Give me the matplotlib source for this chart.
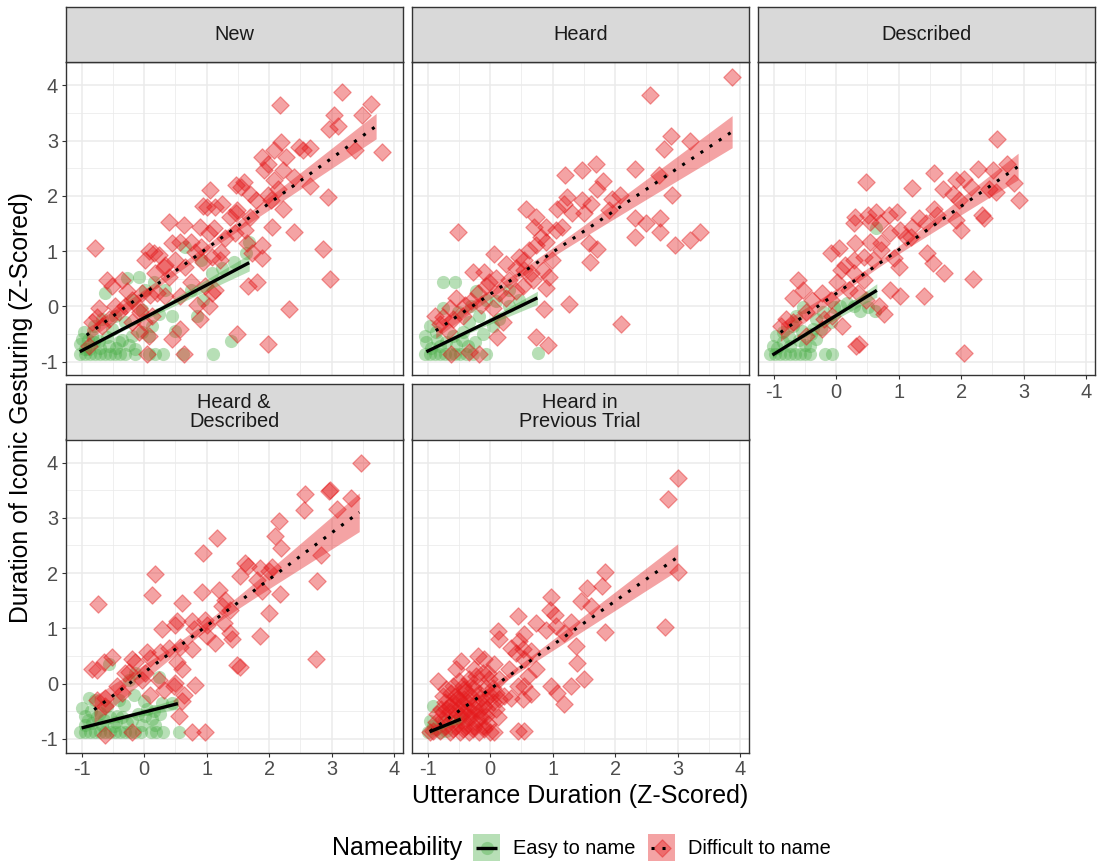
import numpy as np
import matplotlib.pyplot as plt
from matplotlib.patches import Rectangle

plt.rcParams['font.family'] = ['Liberation Sans', 'DejaVu Sans']

panels = ["New", "Heard", "Described", "Heard &\nDescribed", "Heard in\nPrevious Trial"]
legend_labels = ["Easy to name", "Difficult to name"]

# points, (utterance, gesturing) pairs
new_easy = [(-1.03,-0.86),(-0.95,-0.86),(-0.87,-0.86),(-0.79,-0.86),(-0.71,-0.86),(-0.63,-0.86),(-0.55,-0.86),
            (-0.47,-0.86),(-0.39,-0.86),(-0.31,-0.86),(-0.15,-0.86),(0.07,-0.86),(0.17,-0.86),(0.3,-0.86),
            (0.62,-0.86),(1.1,-0.86),(-1.03,-0.68),(-0.97,-0.47),(-1.0,-0.59),(-0.84,-0.53),(-0.73,-0.62),
            (-0.57,-0.71),(-0.41,-0.65),(-0.2,-0.53),(-0.04,-0.47),(0.07,-0.53),(-0.63,0.24),(-0.28,0.51),
            (-0.09,0.54),(0.15,0.45),(0.02,0.3),(-0.2,0.12),(-0.04,-0.06),(0.23,-0.14),(0.44,-0.17),
            (0.49,-0.44),(0.84,-0.17),(0.94,0.12),(1.39,-0.62),(0.65,1.08),(0.91,0.84),(1.08,0.6),(1.24,0.69),
            (1.44,0.81),(1.68,1.17),(1.63,0.96),(0.75,0.3),(0.33,0.3),(-0.47,-0.17),(-0.68,-0.23),(-0.81,-0.35),
            (-0.52,-0.41),(-0.31,-0.29),(0.12,-0.35),(-0.15,-0.77),(-0.89,-0.77),(-0.95,-0.77),(-0.9,-0.6),
            (-0.8,-0.65),(-0.7,-0.75),(-0.6,-0.55),(-0.45,-0.75),(-0.35,-0.6),(-0.25,-0.7)]
new_difficult = [(3.17,3.87),(2.17,3.65),(3.62,3.66),(3.03,3.46),(3.49,3.46),(2.96,3.2),(3.1,3.26),(3.81,2.8),
                 (3.37,2.83),(2.19,2.97),(2.07,2.82),(1.88,2.70),(2.47,2.88),(2.65,2.87),(2.54,2.82),(2.27,2.70),
                 (1.98,2.58),(2.22,2.46),(2.40,2.34),(2.08,2.28),(1.92,2.46),(1.6,2.25),(1.47,2.19),(1.55,2.16),
                 (1.06,2.1),(2.65,2.17),(2.94,1.97),(1.69,2.04),(1.79,1.92),(1.98,2.01),(2.14,2.13),(2.22,1.77),
                 (2.03,1.92),(1.01,1.8),(1.14,1.8),(1.24,1.86),(0.94,1.81),(1.38,1.62),(1.47,1.68),(1.7,1.62),
                 (1.49,1.74),(2.04,1.44),(2.40,1.35),(2.86,1.03),(2.98,0.5),(2.31,-0.04),(1.98,-0.68),(1.49,-0.5),
                 (0.4,1.53),(0.63,1.47),(0.9,1.44),(1.11,1.41),(1.03,1.32),(1.29,1.23),(1.45,1.32),(1.61,1.38),
                 (1.64,1.14),(1.88,1.11),(1.72,0.96),(1.88,0.87),(1.23,0.99),(0.91,1.08),(0.75,1.17),(0.57,1.17),
                 (0.44,1.14),(0.81,0.99),(1.08,0.9),(1.21,0.84),(0.94,0.81),(0.65,0.72),(0.49,0.84),(0.33,0.75),
                 (0.15,0.96),(0.07,1.0),(0.23,0.93),(0.02,0.84),(0.31,0.72),(0.18,0.6),(0.39,0.54),(0.75,0.45),
                 (0.97,0.36),(1.14,0.3),(1.09,0.24),(1.66,0.36),(1.81,0.45),(0.57,0.18),(0.33,0.18),(0.2,0.24),
                 (-0.04,0.24),(-0.27,0.27),(-0.36,0.48),(-0.6,0.48),(-0.52,0.36),(-0.79,1.06),(-0.2,0.12),
                 (0.1,0.21),(0.84,0.03),(1.03,0.0),(0.9,-0.23),(-0.09,-0.03),(-0.01,-0.29),(0.57,-0.4),
                 (0.44,-0.59),(-0.73,-0.03),(-0.76,-0.2),(-0.84,-0.29),(-0.68,-0.35),(-0.57,-0.23),(-0.41,-0.11),
                 (-0.2,-0.29),(-0.09,-0.47),(0.07,-0.53),(0.04,-0.86),(0.63,-0.86),(-0.89,-0.71),(-0.31,0.0),
                 (-0.06,-0.11),(0.12,-0.17),(-0.47,0.0)]

heard_easy = [(-1.05,-0.86),(-0.97,-0.86),(-0.89,-0.86),(-0.81,-0.86),(-0.73,-0.86),(-0.65,-0.86),(-0.57,-0.86),
              (-0.49,-0.86),(-0.39,-0.86),(-0.28,-0.86),(-0.07,-0.86),(-0.76,0.45),(-0.56,0.45),(-0.23,0.27),
              (-0.07,0.12),(0.09,0.09),(0.3,0.0),(0.46,0.12),(-0.97,-0.35),(-1.05,-0.53),(-1.03,-0.65),
              (-0.87,-0.47),(-0.6,-0.53),(-0.36,-0.71),(-0.12,-0.5),(-0.34,-0.29),(0.04,-0.35),(0.76,-0.84),
              (-0.52,-0.11),(-0.31,0.0),(-0.76,-0.03),(-0.18,-0.17),(0.14,-0.23),(0.3,0.3),(-0.44,-0.47),
              (-0.81,-0.71),(-0.95,-0.75),(-0.85,-0.6),(-0.7,-0.65),(-0.55,-0.7),(-0.45,-0.6),(-0.25,-0.65)]
heard_difficult = [(3.87,4.14),(2.55,3.83),(2.9,3.08),(3.2,2.99),(2.78,2.85),(2.32,2.49),(2.7,2.37),(1.2,2.37),
                   (1.47,2.46),(1.7,2.57),(1.81,2.27),(1.71,2.13),(1.23,1.98),(1.47,1.92),(1.95,1.95),(2.08,2.01),
                   (2.91,2.01),(0.57,1.76),(0.73,1.61),(1.07,1.77),(1.18,1.86),(1.31,1.68),(1.61,1.86),(1.5,1.68),
                   (1.9,1.74),(2.31,1.59),(2.5,1.5),(2.72,1.59),(2.72,1.35),(2.32,1.25),(2.95,1.11),(3.2,1.2),
                   (3.35,1.34),(-0.52,1.34),(0.7,1.43),(0.89,1.44),(1.05,1.38),(1.15,1.44),(0.81,1.26),(0.73,1.11),
                   (0.89,1.17),(0.62,1.02),(1.58,1.14),(1.71,1.04),(1.6,0.81),(0.99,0.84),(0.84,0.66),(0.94,0.54),
                   (0.46,0.9),(0.54,0.84),(0.06,0.94),(0.25,0.77),(0.41,0.69),(0.54,0.66),(0.65,0.6),(-0.28,0.63),
                   (-0.1,0.63),(-0.02,0.45),(0.09,0.51),(0.3,0.48),(0.68,0.48),(0.89,0.33),(-0.07,0.36),(0.14,0.24),
                   (0.41,0.27),(0.25,0.15),(-0.2,0.24),(-0.55,0.15),(-0.41,0.03),(-0.31,0.09),(-0.15,0.03),
                   (0.04,-0.03),(-0.65,-0.03),(-0.76,-0.2),(-0.89,-0.17),(-0.6,-0.23),(-0.44,-0.17),(-0.81,-0.32),
                   (-0.68,-0.44),(0.2,-0.29),(0.86,-0.05),(1.26,0.04),(2.1,-0.31),(0.11,-0.56),(0.74,-0.56),
                   (0.92,-0.7),(-0.18,-0.86),(-0.63,-0.86),(-0.34,-0.83),(0.52,0.36)]

described_easy = [(-1.06,-0.86),(-0.98,-0.86),(-0.9,-0.86),(-0.82,-0.86),(-0.74,-0.86),(-0.66,-0.86),(-0.58,-0.86),
                  (-0.5,-0.86),(-0.42,-0.86),(-0.18,-0.86),(-0.07,-0.86),(-1.01,-0.71),(-0.96,-0.53),(-0.85,-0.47),
                  (-0.69,-0.35),(-0.64,-0.17),(-0.53,-0.02),(-0.32,-0.23),(-0.21,-0.11),(-0.04,-0.02),(0.06,0.0),
                  (0.38,-0.08),(0.51,-0.02),(0.62,-0.08),(0.28,0.0),(0.64,1.41),(-0.42,-0.71),(-0.32,-0.59),
                  (-0.74,-0.71),(-0.37,-0.41),(0.17,0.06),(-0.09,-0.29),(-0.95,-0.75),(-0.85,-0.65),(-0.75,-0.55),
                  (-0.6,-0.6),(-0.5,-0.7),(-0.55,-0.45),(-0.4,-0.5),(-0.25,-0.4)]
described_difficult = [(2.58,3.02),(1.57,2.42),(2.27,2.49),(2.51,2.46),(2.74,2.58),(2.84,2.23),(2.92,1.92),(0.48,2.25),
                       (1.22,2.14),(1.71,2.13),(1.92,2.28),(2.05,2.31),(2.16,2.16),(1.87,2.04),(1.97,1.92),(2.45,2.13),
                       (2.56,2.07),(2.34,1.65),(2.37,1.59),(1.92,1.56),(2.0,1.38),(1.57,1.77),(1.62,1.65),(1.43,1.5),
                       (1.33,1.59),(1.22,1.44),(1.12,1.26),(1.02,1.38),(0.98,1.71),(0.84,1.65),(0.64,1.71),(0.51,1.65),
                       (0.3,1.62),(0.28,1.5),(0.54,1.53),(0.7,1.5),(0.86,1.32),(0.72,1.14),(0.54,1.17),(0.3,1.14),
                       (0.04,1.05),(-0.09,0.96),(0.14,0.75),(0.28,0.84),(0.44,0.9),(0.59,0.84),(0.72,1.02),(0.92,0.87),
                       (1.0,0.72),(1.19,1.26),(1.45,0.96),(1.55,0.78),(1.72,0.6),(2.19,0.5),(1.41,0.18),(1.02,0.18),
                       (0.86,0.3),(0.28,0.6),(0.07,0.66),(0.02,0.45),(0.44,0.48),(0.2,0.3),(0.35,0.24),(0.48,0.12),
                       (0.77,-0.14),(0.69,0.0),(-0.23,0.24),(-0.39,0.12),(-0.09,0.12),(0.09,-0.35),(-0.07,-0.17),
                       (-0.2,-0.23),(-0.53,0.3),(-0.61,0.47),(-0.69,0.15),(-0.8,-0.23),(-0.69,-0.29),(-0.48,-0.11),
                       (-0.88,-0.35),(-0.23,-0.41),(0.36,-0.68),(0.32,-0.71),(2.04,-0.85),(-0.48,-0.53)]

heard_described_easy = [(-1.02,-0.87),(-0.94,-0.87),(-0.86,-0.87),(-0.78,-0.87),(-0.7,-0.87),(-0.62,-0.87),
                        (-0.54,-0.87),(-0.46,-0.87),(-0.38,-0.87),(-0.3,-0.87),(-0.22,-0.87),(-0.14,-0.87),
                        (-0.05,-0.87),(0.11,-0.87),(0.19,-0.87),(0.3,-0.87),(0.56,-0.87),(-0.99,-0.44),(-0.88,-0.26),
                        (-0.78,-0.29),(-0.94,-0.58),(-0.83,-0.71),(-0.7,-0.53),(-0.56,0.36),(-0.59,-0.41),(-0.4,-0.29),
                        (-0.32,-0.38),(-0.24,0.07),(-0.14,0.19),(-0.16,-0.2),(-0.01,-0.32),(0.02,-0.58),(0.13,-0.64),
                        (0.26,-0.55),(0.23,0.12),(0.18,-0.74),(0.29,-0.35),(0.45,-0.35),(-0.03,-0.74),(-0.43,-0.58),
                        (-0.27,-0.71),(-0.67,-0.74),(-0.48,-0.77),(-0.95,-0.75),(-0.9,-0.65),(-0.85,-0.5),
                        (-0.75,-0.6),(-0.65,-0.65),(-0.55,-0.6),(-0.45,-0.7),(-0.35,-0.6),(-0.2,-0.65),(-0.1,-0.55),
                        (0.05,-0.45),(0.15,-0.5)]
heard_described_difficult = [(3.47,4.0),(2.95,3.48),(2.98,3.51),(2.58,3.43),(2.55,3.15),(3.08,3.16),(3.31,3.36),
                             (2.15,2.95),(2.1,2.67),(2.19,2.46),(1.16,2.64),(0.94,2.36),(0.17,1.98),(0.12,1.6),
                             (2.83,2.33),(2.76,1.85),(2.0,2.03),(1.86,2.09),(1.62,2.18),(1.66,2.12),(1.54,1.94),
                             (1.8,1.88),(1.88,1.67),(2.17,1.63),(2.04,2.11),(0.92,1.65),(1.19,1.69),(1.3,1.52),
                             (1.24,1.41),(1.38,1.34),(1.99,1.28),(0.6,1.46),(0.53,1.13),(0.5,1.07),(0.29,0.99),
                             (0.76,1.13),(0.98,1.16),(1.0,1.07),(0.79,0.99),(1.0,0.86),(1.14,0.73),(1.27,1.1),(1.38,0.92),
                             (1.4,0.8),(1.86,0.86),(0.77,0.63),(0.58,0.67),(0.4,0.64),(0.26,0.57),(0.04,0.58),(-0.19,0.45),
                             (-0.14,0.4),(0.1,0.46),(0.53,0.39),(0.61,0.27),(1.48,0.34),(1.54,0.31),(2.75,0.45),
                             (-0.51,0.49),(-0.64,0.4),(-0.84,0.27),(-0.75,0.25),(-0.74,1.45),(-0.24,0.22),(0.02,0.19),
                             (0.23,0.07),(0.5,0.01),(0.82,-0.02),(0.31,-0.11),(0.63,-0.2),(0.1,-0.2),(0.47,-0.04),
                             (0.55,-0.58),(0.61,-0.32),(-0.3,0.19),(-0.43,-0.05),(-0.62,-0.26),(-0.75,-0.29),(-0.62,-0.41),
                             (-0.35,-0.17),(0.77,-0.87),(0.97,-0.87),(-0.19,-0.87),(-0.62,-0.92),(-0.03,0.07)]

previous_easy = [(-0.92,-0.4),(-0.97,-0.67),(-0.92,-0.76),(-0.87,-0.82),(-1.0,-0.87),(-0.81,-0.87),(-0.71,-0.85),
                 (-0.6,-0.67),(-0.49,-0.64),(-0.76,-0.7)]
previous_difficult = [(3.01,3.72),(2.84,3.34),(3.0,2.02),(2.8,1.03),(1.84,2.02),(1.79,1.76),(1.55,1.73),(1.46,1.49),
                      (1.61,1.4),(1.84,0.93),(0.97,1.57),(0.95,1.34),(1.03,1.25),(1.29,1.11),(0.44,1.22),(0.73,1.09),
                      (1.05,1.04),(0.89,0.98),(1.18,0.92),(1.37,0.68),(0.12,0.96),(0.14,0.81),(0.54,0.9),(0.46,0.77),
                      (0.33,0.65),(0.41,0.56),(0.52,0.62),(0.65,0.59),(0.54,0.44),(1.39,0.38),(1.5,0.08),(1.29,-0.04),
                      (0.97,-0.04),(1.07,-0.17),(1.18,-0.37),(0.73,0.26),(0.6,0.14),(0.44,-0.04),(0.54,-0.04),
                      (0.65,-0.19),(0.52,-0.28),(0.3,0.26),(0.14,0.08),(0.09,-0.16),(0.33,-0.25),(0.12,-0.61),
                      (0.44,-0.85),(0.54,-0.85),(-0.01,-0.88),(-0.47,0.41),(-0.55,0.26),(-0.26,0.26),(-0.1,0.44),
                      (0.06,0.35),(-0.84,0.05),(-0.71,-0.1),(-0.63,-0.16),(-0.44,-0.04),(-0.34,0.08),(-0.23,0.14),
                      (-0.12,0.2),(-0.02,0.08),(-0.07,-0.07),(-0.18,-0.16),(-0.31,-0.22),(-0.42,-0.28),(-0.52,-0.25),
                      (-0.6,-0.34),(-0.73,-0.34),(-0.79,-0.46),(-0.65,-0.49),(-0.49,-0.4),(-0.36,-0.46),(-0.23,-0.34),
                      (-0.1,-0.4),(0.04,-0.34),(0.09,-0.46),(-0.07,-0.58),(-0.2,-0.64),(-0.34,-0.61),(-0.47,-0.58),
                      (-0.6,-0.64),(-0.76,-0.64),(-0.87,-0.7),(-0.71,-0.76),(-0.55,-0.76),(-0.39,-0.76),(-0.26,-0.76),
                      (-0.12,-0.76),(-0.81,-0.85),(-0.65,-0.87),(-0.49,-0.87),(-0.34,-0.87),(-0.18,-0.87),(-0.42,-0.1),
                      (-0.28,-0.07),(-0.15,-0.25),(-0.55,-0.49),(-0.44,-0.52),(-0.31,-0.49),(-0.18,-0.49),(-0.65,-0.4),
                      (-0.57,-0.22),(-0.36,-0.34),(-0.07,-0.28),(0.04,-0.07),(0.14,-0.28),(0.22,-0.22),(-0.26,0.02),
                      (-0.5,0.05),(-0.76,-0.22),(-0.2,0.5),(-0.04,0.2),(-0.76,-0.52),(-0.92,-0.85),(-0.97,-0.87),
                      (-0.6,-0.82),(-0.44,-0.82),(-0.28,-0.82),(-0.04,-0.73),(0.06,-0.88),(-0.85,-0.55),(-0.7,-0.45),
                      (-0.5,-0.3),(-0.3,-0.6),(-0.15,-0.6),(-0.05,-0.45),(0.0,-0.2),(-0.4,-0.15),(-0.6,-0.05),
                      (-0.25,-0.45),(-0.45,-0.65),(-0.1,-0.82)]

easy_points = [new_easy, heard_easy, described_easy, heard_described_easy, previous_easy]
difficult_points = [new_difficult, heard_difficult, described_difficult, heard_described_difficult, previous_difficult]

# fitted lines:
# x start, x end, y start, y end, x of narrowest band, half width there, half width at far end
easy_fit = [(-1.03, 1.68, -0.82, 0.79, -0.4, 0.03, 0.15),
            (-1.02, 0.755, -0.82, 0.154, -0.6, 0.03, 0.12),
            (-1.02, 0.65, -0.88, 0.29, -0.6, 0.03, 0.12),
            (-1.0, 0.54, -0.80, -0.36, -0.6, 0.03, 0.10),
            (-0.97, -0.47, -0.87, -0.64, -0.8, 0.03, 0.06)]
difficult_fit = [(-0.92, 3.71, -0.52, 3.26, 0.6, 0.06, 0.23),
                 (-0.87, 3.87, -0.44, 3.16, 0.5, 0.07, 0.29),
                 (-0.89, 2.91, -0.47, 2.53, 0.6, 0.06, 0.24),
                 (-0.80, 3.44, -0.47, 3.10, 0.9, 0.08, 0.35),
                 (-0.96, 3.00, -0.86, 2.29, -0.2, 0.04, 0.24)]

GREEN = '#4DAF4A'
RED = '#E41A1C'
W, H = 1097, 864
CIRCLE_S, DIAMOND_S = 90, 78

fig = plt.figure(figsize=(W / 100, H / 100), dpi=100)


def px_axes(left, top, width, height):
    return fig.add_axes([left / W, 1 - (top + height) / H, width / W, height / H])


def draw_line(ax, xs, ys, style):
    if style == 'solid':
        ax.plot(xs, ys, color='black', lw=2.4, zorder=4, solid_capstyle='butt')
    else:
        ax.plot(xs, ys, color='black', lw=2.2, dashes=(1, 2.6), zorder=4)


def draw_fit(ax, fit, color, style):
    x0, x1, y0, y1, xc, m, e = fit
    xs = np.linspace(x0, x1, 80)
    ys = y0 + (y1 - y0) * (xs - x0) / (x1 - x0)
    far = max(abs(x0 - xc), abs(x1 - xc))
    k = np.sqrt(e ** 2 - m ** 2) / far
    half = np.sqrt(m ** 2 + (k * (xs - xc)) ** 2)
    ax.fill_between(xs, ys - half, ys + half, color=color, alpha=0.4, lw=0, zorder=3)
    draw_line(ax, xs, ys, style)


col_left = [65.7, 411.7, 757.7]
row_top = [62, 439.3]
strip_top = [6.7, 384.3]
pw, ph, sh = 337, 313.5, 55.3
ticks = [-1, 0, 1, 2, 3, 4]
tick_labels = ["-1", "0", "1", "2", "3", "4"]

for i, name in enumerate(panels):
    r, c = divmod(i, 3)
    ax = px_axes(col_left[c], row_top[r], pw, ph)
    ax.set_xlim(-1.255, 4.135)
    ax.set_ylim(-1.25, 4.42)
    ax.set_xticks(ticks)
    ax.set_xticklabels(tick_labels)
    ax.set_yticks(ticks)
    ax.set_yticklabels(tick_labels)
    ax.set_xticks(np.arange(-0.5, 4, 1), minor=True)
    ax.set_yticks(np.arange(-0.5, 4, 1), minor=True)
    ax.grid(which='major', color='#EBEBEB', lw=1.1)
    ax.grid(which='minor', color='#EBEBEB', lw=0.55)
    ax.set_axisbelow(True)
    for s in ax.spines.values():
        s.set_color('#333333')
        s.set_linewidth(1.0)
    ax.tick_params(which='minor', length=0)
    ax.tick_params(which='major', length=3, width=0.8, color='#333333',
                   labelcolor='#4D4D4D', labelsize=14.4, pad=2.5)
    show_x = (r == 1) or (c == 2)
    show_y = (c == 0)
    ax.tick_params(bottom=show_x, labelbottom=show_x, left=show_y, labelleft=show_y)

    ex, ey = zip(*easy_points[i])
    dx, dy = zip(*difficult_points[i])
    ax.scatter(ex, ey, s=CIRCLE_S, marker='o', color=GREEN, alpha=0.4, lw=0, zorder=2)
    ax.scatter(dx, dy, s=DIAMOND_S, marker='D', color=RED, alpha=0.4, lw=0.9, zorder=2)
    draw_fit(ax, easy_fit[i], GREEN, 'solid')
    draw_fit(ax, difficult_fit[i], RED, 'dotted')

    sax = px_axes(col_left[c], strip_top[r], pw, sh)
    sax.set_facecolor('#D9D9D9')
    sax.set_xticks([])
    sax.set_yticks([])
    for s in sax.spines.values():
        s.set_color('#333333')
        s.set_linewidth(1.0)
    sax.text(0.5, 0.5, name, ha='center', va='center', fontsize=14.4,
             color='#1A1A1A', linespacing=1.0, transform=sax.transAxes)

fig.text(21 / W, 1 - 407.5 / H, "Duration of Iconic Gesturing (Z-Scored)", rotation=90,
         ha='center', va='center', fontsize=17.8, color='black')
fig.text(580 / W, 1 - 796 / H, "Utterance Duration (Z-Scored)",
         ha='center', va='center', fontsize=18, color='black')

# legend at the bottom
fig.text(332 / W, 1 - 848 / H, "Nameability", ha='left', va='center', fontsize=18)
for left, color, marker, style, label, tx in [(473, GREEN, 'o', 'solid', legend_labels[0], 513),
                                               (648, RED, 'D', 'dotted', legend_labels[1], 688)]:
    kax = px_axes(left, 834, 27, 27)
    kax.set_xlim(0, 1)
    kax.set_ylim(0, 1)
    kax.axis('off')
    kax.add_patch(Rectangle((0, 0), 1, 1, color=color, alpha=0.4, lw=0))
    kax.scatter([0.5], [0.5], s=CIRCLE_S if marker == 'o' else DIAMOND_S, marker=marker, color=color,
                alpha=0.4, lw=0 if marker == 'o' else 0.9)
    draw_line(kax, [0.1, 0.9], [0.5, 0.5], style)
    fig.text(tx / W, 1 - 848 / H, label, ha='left', va='center', fontsize=14.4)

fig.savefig("out.png", dpi=100)
